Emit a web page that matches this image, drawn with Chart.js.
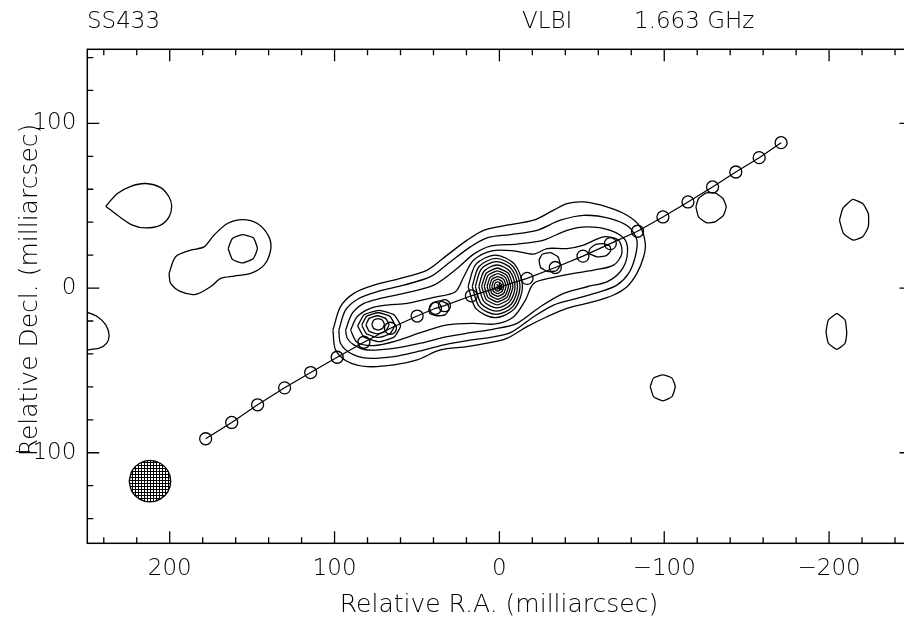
<!DOCTYPE html>
<html>
<head>
<meta charset="utf-8">
<title>SS433 VLBI 1.663 GHz</title>
<script src="https://cdn.jsdelivr.net/npm/chart.js@4.4.1/dist/chart.umd.min.js"></script>
<style>
  html, body { margin: 0; padding: 0; background: #fff; overflow: hidden; }
  #wrap { width: 904px; height: 633px; overflow: hidden; }
</style>
</head>
<body>
<div id="wrap"><canvas id="map" width="920" height="633"></canvas></div>
<script>
const FONT = '"DejaVu Sans", "Liberation Sans", sans-serif';
const WEIGHT = 200;

// axes, milliarcsec
const raRange = [250, -250];
const decRange = [-155, 145];
const tickStep = 20;
const labelStep = 100;

// kinematic model knots along the jet
const knotRA  = [178.2, 162.4, 146.7, 130.3, 114.5, 98.4, 82.2, 66.1, 49.9, 38.8, 33.3, 17.0,
                 -16.8, -33.9, -50.7, -67.3, -83.8, -99.2, -114.4, -129.3, -143.4, -157.6, -170.9];
const knotDec = [-91.5, -81.6, -70.9, -60.6, -51.3, -42.0, -32.9, -24.4, -17.0, -12.3, -10.7, -4.7,
                 5.9, 12.5, 19.4, 27.0, 34.5, 43.2, 52.3, 61.4, 70.5, 79.2, 88.3];
const corePos = [[0, 0.6]];

// jet contours (RA, Dec), outermost first
const envelope1 = [[101.0,-25.5],[96.4,-11.3],[88.3,-3.2],[76.2,1.8],[60.0,5.9],[43.8,10.9],[31.7,20.0],[19.6,29.1],[9.5,35.1],[-4.6,38.2],[-20.8,41.2],[-32.9,47.3],[-41.0,51.3],[-51.1,52.3],[-65.2,49.3],[-77.4,44.2],[-85.4,37.2],[-88.5,27.1],[-87.5,19.0],[-83.4,8.9],[-77.4,0.8],[-69.3,-4.2],[-57.2,-8.3],[-41.0,-12.3],[-28.9,-17.4],[-16.8,-23.4],[-4.6,-30.5],[7.5,-33.5],[19.6,-35.6],[35.8,-37.6],[49.9,-43.6],[64.0,-46.7],[80.2,-47.7],[92.3,-44.6],[99.4,-37.6]];
const envelope2 = [[97.4,-25.5],[93.3,-13.3],[85.3,-6.3],[74.1,-2.2],[58.0,1.8],[41.8,6.9],[29.7,16.0],[17.6,25.0],[7.5,30.5],[-6.7,32.5],[-22.8,35.1],[-37.0,41.2],[-51.1,44.2],[-67.3,42.2],[-78.4,37.2],[-83.4,29.1],[-82.4,19.0],[-78.4,8.9],[-71.3,1.8],[-61.2,-2.2],[-47.1,-6.3],[-32.9,-10.3],[-20.8,-17.4],[-6.7,-27.1],[5.5,-29.9],[19.6,-31.9],[33.7,-34.5],[49.9,-38.6],[64.0,-41.6],[80.2,-42.6],[90.3,-39.6],[96.4,-33.5]];
const envelope3 = [[93.3,-25.5],[89.3,-15.4],[82.2,-9.3],[72.1,-6.3],[58.0,-3.2],[39.8,1.8],[25.7,11.9],[15.6,20.6],[5.5,25.5],[-10.7,26.7],[-26.9,29.1],[-41.0,35.1],[-53.1,37.2],[-67.3,35.1],[-76.4,29.1],[-77.4,19.0],[-73.3,9.9],[-65.2,3.8],[-53.1,0.8],[-39.0,-3.2],[-24.8,-11.3],[-10.7,-21.4],[3.4,-24.9],[17.6,-27.1],[31.7,-29.5],[47.9,-33.5],[64.0,-36.6],[80.2,-37.6],[88.3,-34.5],[92.3,-30.5]];
const envelope4 = [[90.3,-25.5],[86.3,-17.4],[78.2,-12.3],[68.1,-10.3],[56.0,-9.3],[39.8,-5.7],[26.7,-2.2],[21.6,6.9],[15.6,17.0],[4.5,22.6],[-8.7,22.6],[-20.8,20.6],[-28.9,24.0],[-41.0,24.0],[-51.1,26.1],[-63.2,31.1],[-72.3,29.1],[-74.3,21.0],[-69.3,13.9],[-57.2,10.9],[-45.0,8.9],[-32.9,6.5],[-20.8,2.8],[-15.8,-7.3],[-8.7,-17.4],[2.4,-21.8],[15.6,-21.4],[31.7,-22.4],[47.9,-27.1],[62.0,-31.9],[76.2,-34.9],[86.3,-32.9]];

// core rings
const core1  = [[19,1],[14.2,14.5],[2.5,20],[-9.2,14.5],[-14,1],[-9.2,-12.5],[2.5,-18],[14.2,-12.5]];
const core2  = [[16.5,1],[12.3,13.1],[2,18],[-8.3,13.1],[-12.5,1],[-8.3,-11.1],[2,-16],[12.3,-11.1]];
const core3  = [[14.6,1],[10.9,11.7],[1.8,16],[-7.3,11.7],[-11,1],[-7.3,-9.7],[1.8,-14],[10.9,-9.7]];
const core4  = [[12.5,1],[9.3,10.2],[1.5,14],[-6.3,10.2],[-9.5,1],[-6.3,-8.2],[1.5,-12],[9.3,-8.2]];
const core5  = [[10.8,1],[8,9],[1.3,12.2],[-5.4,9],[-8.2,1],[-5.4,-7],[1.3,-10.2],[8,-7]];
const core6  = [[9.2,1],[6.9,7.7],[1.2,10.5],[-4.5,7.7],[-6.8,1],[-4.5,-5.7],[1.2,-8.5],[6.9,-5.7]];
const core7  = [[7.5,1],[5.6,6.5],[1,8.8],[-3.6,6.5],[-5.5,1],[-3.6,-4.5],[1,-6.8],[5.6,-4.5]];
const core8  = [[6,1],[4.6,5.3],[1,7],[-2.6,5.3],[-4,1],[-2.6,-3.3],[1,-5],[4.6,-3.3]];
const core9  = [[4.6,1],[3.6,4.1],[1,5.4],[-1.6,4.1],[-2.6,1],[-1.6,-2.1],[1,-3.4],[3.6,-2.1]];
const core10 = [[3.2,1],[2.6,3],[1,3.8],[-0.6,3],[-1.2,1],[-0.6,-1],[1,-1.8],[2.6,-1]];

// eastern knot rings
const knotE1 = [[86,-23],[82.2,-16.3],[73,-13.5],[63.8,-16.3],[60,-23],[63.8,-29.7],[73,-32.5],[82.2,-29.7]];
const knotE2 = [[83.5,-22.5],[80.6,-17.2],[73.5,-15],[66.4,-17.2],[63.5,-22.5],[66.4,-27.8],[73.5,-30],[80.6,-27.8]];
const knotE3 = [[81,-22.3],[79,-18.4],[74,-16.8],[69,-18.4],[67,-22.3],[69,-26.2],[74,-27.8],[79,-26.2]];
const knotE4 = [[77.4,-22],[76.3,-19.5],[73.6,-18.5],[70.9,-19.5],[69.8,-22],[70.9,-24.5],[73.6,-25.5],[76.3,-24.5]];
const knotMid = [[43,-13.5],[40.5,-9],[36,-7.8],[31.5,-9.5],[30.5,-13],[33,-16.3],[38,-16.8],[42,-15.5]];
const knotW1 = [[-24,17],[-26,20.5],[-31,21.5],[-35.5,19],[-37,14],[-34.5,10.5],[-29.5,10],[-25,12.5]];
const knotW2 = [[-54,21],[-55,24],[-58.5,26.5],[-63,27],[-67,25.5],[-67.5,22.5],[-64.5,19.5],[-59,19]];

// isolated features
const teardrop = [[238.8,49.7],[231.7,57.4],[223.6,61.8],[214.5,63.5],[205.5,61.0],[200.4,55.3],[198.8,49.7],[200.4,43.2],[205.5,38.2],[214.5,36.5],[222.6,38.2],[231.7,44.2]];
const peanut = [[200.4,8.9],[196.4,19.0],[187.3,23.0],[179.2,25.0],[173.2,32.1],[165.0,39.2],[155.9,41.6],[146.8,39.2],[139.8,31.1],[138.8,23.0],[142.8,13.9],[150.9,8.9],[161.0,7.3],[169.1,5.9],[175.2,0.8],[184.2,-3.8],[193.3,-2.2],[199.4,2.8]];
const peanutCore = [[164.6,24.0],[162.0,30.1],[155.9,32.5],[149.3,30.5],[146.8,24.0],[149.3,18.0],[155.9,15.3],[162.0,17.4]];
const edgeArc = [[251,-14.4],[243.8,-17.4],[238.8,-22.4],[236.8,-28.5],[238.2,-33.5],[242.8,-36.5],[251,-37.6]];
const blobNW = [[-119.2,49.3],[-120.8,54.4],[-125.5,57.8],[-130.9,57.8],[-135.6,54.4],[-137.6,49.3],[-135.9,44.2],[-130.9,40.2],[-125.9,39.6],[-120.8,43.2]];
const blobFarW = [[-206.3,41.2],[-208.3,48.3],[-214.4,53.8],[-220.4,51.3],[-223.8,45.3],[-223.8,37.2],[-220.4,31.1],[-214.7,29.1],[-208.7,33.2]];
const blobFarSW = [[-204.7,-15.3],[-209.7,-19.4],[-210.7,-27.5],[-209.7,-33.5],[-204.7,-37.2],[-199.6,-33.5],[-198.2,-26.5],[-199.6,-19.4]];
const blobS = [[-91.5,-59.8],[-93.5,-54.7],[-99.2,-52.7],[-104.7,-54.7],[-106.7,-59.8],[-104.7,-65.9],[-99.2,-68.5],[-93.5,-65.9]];

// restoring beam
const beam = [[224.6,-117.3],[222.9,-111],[218.3,-106.4],[212,-104.7],[205.7,-106.4],[201.1,-111],[199.4,-117.3],[201.1,-123.6],[205.7,-128.2],[212,-129.9],[218.3,-128.2],[222.9,-123.6]];

const openLoops = [edgeArc];
const smoothLoops = [envelope1, envelope2, envelope3, envelope4, teardrop, peanut, core1, core2, core3, core4];
const polyLoops = [core5, core6, core7, core8, core9, core10, knotE1, knotE2, knotE3, knotE4,
                   knotMid, knotW1, knotW2, peanutCore, blobNW, blobFarW, blobFarSW, blobS];

const closed = (arr) => [...arr, arr[0]].map(([x, y]) => ({ x, y }));
const open = (arr) => arr.map(([x, y]) => ({ x, y }));

const contourStyle = { showLine: true, borderColor: '#000', borderWidth: 1.3, pointRadius: 0, fill: false };

// cross-hatched beam fill
const hatch = document.createElement('canvas');
hatch.width = 3; hatch.height = 3;
const hctx = hatch.getContext('2d');
hctx.fillStyle = '#fff'; hctx.fillRect(0, 0, 3, 3);
hctx.fillStyle = '#000'; hctx.fillRect(0, 0, 3, 1); hctx.fillRect(0, 0, 1, 3);
const hatchPattern = hctx.createPattern(hatch, 'repeat');

const datasets = [
  ...smoothLoops.map(c => ({ ...contourStyle, data: closed(c), tension: 0.3 })),
  ...polyLoops.map(c => ({ ...contourStyle, data: closed(c), tension: 0.15 })),
  ...openLoops.map(c => ({ ...contourStyle, data: open(c), tension: 0.3 })),
  { showLine: true, data: closed(beam), tension: 0.4, borderColor: '#000', borderWidth: 1.3,
    backgroundColor: hatchPattern, fill: 'shape', pointRadius: 0 },
  { showLine: true, data: knotRA.map((x, i) => ({ x, y: knotDec[i] })), borderColor: '#000',
    borderWidth: 1.2, pointRadius: 6, pointBorderWidth: 1.3, pointBorderColor: '#000',
    pointBackgroundColor: 'rgba(0,0,0,0)', pointStyle: 'circle', tension: 0 },
  { showLine: false, data: open(corePos), pointStyle: 'star', pointRadius: 4,
    pointBorderColor: '#000', pointBorderWidth: 1.2 },
];

const fmt = (v) => (v % labelStep === 0 ? String(v).replace('-', '\u2212') : '');

// ticks every 20 mas, rounded to the step rather than to the axis ends
const stepTicks = (scale) => {
  const out = [];
  for (let v = Math.ceil(scale.min / tickStep) * tickStep; v <= scale.max; v += tickStep) out.push({ value: v });
  scale.ticks = out;
};

const frameAndTicks = {
  id: 'frameAndTicks',
  afterDraw(chart) {
    const { ctx, chartArea: a, scales } = chart;
    ctx.save();
    ctx.strokeStyle = '#000';
    ctx.lineWidth = 1.5;
    ctx.strokeRect(a.left, a.top, a.right - a.left, a.bottom - a.top);
    ctx.beginPath();
    scales.x.ticks.forEach(t => {
      const len = t.value % labelStep === 0 ? 12 : 6;
      const px = scales.x.getPixelForValue(t.value);
      ctx.moveTo(px, a.bottom); ctx.lineTo(px, a.bottom - len);
      ctx.moveTo(px, a.top); ctx.lineTo(px, a.top + len);
    });
    scales.y.ticks.forEach(t => {
      const len = t.value % labelStep === 0 ? 12 : 6;
      const py = scales.y.getPixelForValue(t.value);
      ctx.moveTo(a.left, py); ctx.lineTo(a.left + len, py);
      ctx.moveTo(a.right, py); ctx.lineTo(a.right - len, py);
    });
    ctx.lineWidth = 1.3;
    ctx.stroke();

    ctx.fillStyle = '#000';
    ctx.font = `${WEIGHT} 23px ${FONT}`;
    ctx.textBaseline = 'middle';
    ctx.textAlign = 'left';
    ctx.fillText('SS433', 87, 22);
    ctx.fillText('VLBI', 522, 22);
    ctx.fillText('1.663 GHz', 634, 22);
    ctx.font = `${WEIGHT} 25px ${FONT}`;
    ctx.textAlign = 'center';
    ctx.fillText('Relative R.A. (milliarcsec)', 499, 605);
    ctx.translate(30, 290);
    ctx.rotate(-Math.PI / 2);
    ctx.fillText('Relative Decl. (milliarcsec)', 0, 0);
    ctx.restore();
  }
};

new Chart(document.getElementById('map'), {
  type: 'scatter',
  data: { datasets },
  options: {
    responsive: false,
    animation: false,
    events: [],
    layout: { autoPadding: false, padding: { left: 0, top: 49.3, right: 8.5, bottom: 0 } },
    plugins: { legend: { display: false }, tooltip: { enabled: false } },
    scales: {
      x: {
        type: 'linear', reverse: true, min: raRange[1], max: raRange[0],
        grid: { display: false, drawTicks: false }, border: { display: false },
        ticks: { autoSkip: false, maxRotation: 0, padding: 12,
                 color: '#000', font: { family: FONT, size: 23, weight: WEIGHT }, callback: fmt },
        afterBuildTicks: stepTicks,
        afterFit: (s) => { s.height = 89.7; }
      },
      y: {
        type: 'linear', min: decRange[0], max: decRange[1],
        grid: { display: false, drawTicks: false }, border: { display: false },
        ticks: { autoSkip: false, padding: 11,
                 color: '#000', font: { family: FONT, size: 23, weight: WEIGHT }, callback: fmt },
        afterBuildTicks: stepTicks,
        afterFit: (s) => { s.width = 87.3; }
      }
    }
  },
  plugins: [frameAndTicks]
});
</script>
</body>
</html>
